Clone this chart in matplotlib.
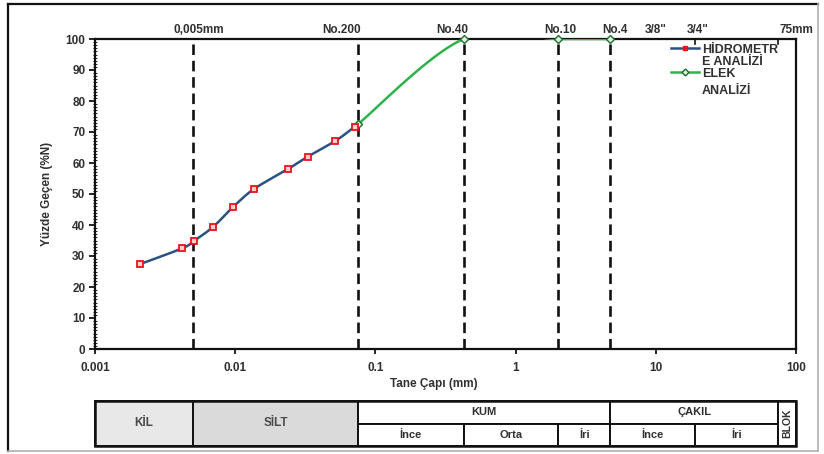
import numpy as np
import matplotlib
matplotlib.use("Agg")
import matplotlib.pyplot as plt
from matplotlib.patches import Rectangle
from matplotlib.lines import Line2D

plt.rcParams['font.family'] = ['Liberation Sans', 'DejaVu Sans']

# Hydrometer analysis (grain diameter in mm, percent passing)
hydro_d = [0.0021, 0.0042, 0.0051, 0.0070, 0.0097, 0.0137, 0.0237, 0.0328, 0.0518, 0.0711]
hydro_p = [27.4, 32.5, 34.9, 39.5, 45.9, 51.7, 58.0, 62.0, 67.1, 71.7]

# Sieve analysis
sieve_d = [0.075, 0.425, 2.0, 4.75]
sieve_p = [72.5, 100, 100, 100]

# Reference sizes marked along the top of the chart
ref_sizes = [0.005, 0.075, 0.425, 2.0, 4.75, 9.5, 19.0, 75.0]
ref_labels = ["0,005mm", "No.200", "No.40", "No.10", "No.4", '3/8"', '3/4"', "75mm"]
dashed_sizes = [0.005, 0.075, 0.425, 2.0, 4.75]

x_ticks = [0.001, 0.01, 0.1, 1, 10, 100]
x_ticklabels = ["0.001", "0.01", "0.1", "1", "10", "100"]
y_ticks = list(range(0, 101, 10))

# Soil classification band (limits in mm)
band_main = [("KİL", 0.001, 0.005, "#e8e8e8"), ("SİLT", 0.005, 0.075, "#dadada")]
band_groups = [("KUM", 0.075, 4.75), ("ÇAKIL", 4.75, 75.0)]
band_sub = [("İnce", 0.075, 0.425), ("Orta", 0.425, 2.0), ("İri", 2.0, 4.75),
            ("İnce", 4.75, 19.0), ("İri", 19.0, 75.0)]
band_blok = ("BLOK", 75.0, 100.0)


def smooth_curve(xs, ys, n=40):
    """Spreadsheet-style smoothed line (Catmull-Rom Bezier) in log-x space."""
    lx = np.log10(np.asarray(xs, float))
    y = np.asarray(ys, float)
    P = np.column_stack([lx, y])
    P = np.vstack([P[0], P, P[-1]])
    out = []
    t = np.linspace(0, 1, n)[:, None]
    for i in range(1, len(P) - 2):
        p0, p1, p2, p3 = P[i - 1], P[i], P[i + 1], P[i + 2]
        b1 = p1 + (p2 - p0) / 6.0
        b2 = p2 - (p3 - p1) / 6.0
        seg = ((1 - t) ** 3) * p1 + 3 * ((1 - t) ** 2) * t * b1 + 3 * (1 - t) * t ** 2 * b2 + t ** 3 * p2
        out.append(seg if i == 1 else seg[1:])
    out = np.vstack(out)
    return 10 ** out[:, 0], out[:, 1]


W, H = 824, 454
fig = plt.figure(figsize=(W / 100, H / 100), dpi=100)

ax_l, ax_r, ax_t, ax_b = 95 / W, 796 / W, 1 - 39 / H, 1 - 349 / H
ax = fig.add_axes([ax_l, ax_b, ax_r - ax_l, ax_t - ax_b])
ax.set_xscale("log")
ax.set_xlim(0.001, 100)
ax.set_ylim(0, 100)

txt_col = "#303030"
blue = "#2b5283"
green = "#2fb24c"

# dashed reference lines
for d in dashed_sizes:
    ax.axvline(d, color="#111111", lw=1.9, dashes=(4, 2.2), zorder=2)

# hydrometer curve
hx, hy = smooth_curve(hydro_d, hydro_p)
ax.plot(hx, hy, color=blue, lw=1.8, zorder=3)
ax.plot(hydro_d, hydro_p, ls="none", marker="s", ms=5, mfc="#ffd0d0", mec="#e8141c",
        mew=1.3, zorder=5, clip_on=False)

# sieve curve
sx, sy = smooth_curve(sieve_d, sieve_p)
ax.plot(sx, sy, color=green, lw=1.8, zorder=3)
ax.plot(sieve_d, sieve_p, ls="none", marker="D", ms=4, mfc="#dff0df", mec="#1f6b30",
        mew=1.0, zorder=4, clip_on=False)

for s in ax.spines.values():
    s.set_linewidth(1.6)
    s.set_color("#111111")

ax.set_xticks(x_ticks)
ax.set_xticklabels(x_ticklabels)
ax.xaxis.set_minor_locator(matplotlib.ticker.NullLocator())
ax.tick_params(axis="x", which="major", direction="out", length=3.5, width=1.2, pad=6,
               labelsize=8.5, labelcolor=txt_col)
ax.set_yticks(y_ticks)
ax.yaxis.set_minor_locator(matplotlib.ticker.MultipleLocator(1))
ax.tick_params(axis="y", which="major", direction="out", length=4, width=1.2, pad=3,
               labelsize=8.5, labelcolor=txt_col)
ax.tick_params(axis="y", which="minor", direction="inout", length=3, width=0.6)
for lab in ax.get_xticklabels() + ax.get_yticklabels():
    lab.set_fontweight("bold")

ax.set_xlabel("Tane Çapı (mm)", fontsize=8.5, fontweight="bold", color=txt_col, labelpad=4)
ax.xaxis.set_label_coords(0.483, -0.095)
ax.set_ylabel("Yüzde Geçen (%N)", fontsize=8.5, fontweight="bold", color=txt_col, labelpad=9)

# small marks on the top edge at 3/4" and 75mm
for d in ref_sizes[6:]:
    ax.plot([d, d], [100, 98.3], color="#111111", lw=1.2, zorder=4)

# top labels
label_shift = [4, -12, -8, 2, 3, 2, 2, 13]
for d, lab, dx in zip(ref_sizes, ref_labels, label_shift):
    ax.annotate(lab, xy=(d, 1.0), xycoords=("data", "axes fraction"),
                xytext=(dx, 6.5), textcoords="offset points", ha="center", va="center",
                fontsize=8.5, fontweight="bold", color=txt_col, annotation_clip=False)

# legend
handles = [Line2D([], [], color=blue, lw=1.8, marker="s", ms=3.5, mfc="#e8141c", mec="#e8141c"),
           Line2D([], [], color=green, lw=1.8, marker="D", ms=3.5, mfc="#dff0df", mec="#1f6b30")]
leg = ax.legend(handles, ["HİDROMETR\nE ANALİZİ", "ELEK\nANALİZİ"], loc="upper left",
                bbox_to_anchor=(0.822, 0.985), frameon=False, fontsize=9,
                handlelength=2.2, handletextpad=0.25, labelspacing=0.0, borderpad=0,
                borderaxespad=0)
for t, ls in zip(leg.get_texts(), [1.0, 1.55]):
    t.set_fontweight("bold")
    t.set_color(txt_col)
    t.set_linespacing(ls)
for col in leg._legend_handle_box.get_children():
    for item in col.get_children():
        item.align = "top"

# classification band below the chart
tb_b, tb_t = 1 - 446 / H, 1 - 401 / H
tab = fig.add_axes([ax_l, tb_b, ax_r - ax_l, tb_t - tb_b])
tab.set_xscale("log")
tab.set_xlim(0.001, 100)
tab.set_ylim(0, 2)
tab.axis("off")

lw_in = 1.4
edge = "#111111"
for name, x0, x1, fc in band_main:
    tab.add_patch(Rectangle((x0, 0), x1 - x0, 2, facecolor=fc, edgecolor=edge, lw=lw_in, clip_on=False))
    tab.text(np.sqrt(x0 * x1), 1.0, name, ha="center", va="center", fontsize=8.5,
             fontweight="bold", color="#4a4a4a")
for name, x0, x1 in band_groups:
    tab.add_patch(Rectangle((x0, 1), x1 - x0, 1, facecolor="white", edgecolor=edge, lw=lw_in, clip_on=False))
    tab.text(np.sqrt(x0 * x1), 1.5, name, ha="center", va="center", fontsize=8,
             fontweight="bold", color=txt_col)
for name, x0, x1 in band_sub:
    tab.add_patch(Rectangle((x0, 0), x1 - x0, 1, facecolor="white", edgecolor=edge, lw=lw_in, clip_on=False))
    tab.text(np.sqrt(x0 * x1), 0.48, name, ha="center", va="center", fontsize=8,
             fontweight="bold", color=txt_col)
name, x0, x1 = band_blok
tab.add_patch(Rectangle((x0, 0), x1 - x0, 2, facecolor="white", edgecolor=edge, lw=lw_in, clip_on=False))
tab.text(np.sqrt(x0 * x1), 1.0, name, ha="center", va="center", fontsize=7.5,
         fontweight="bold", color=txt_col, rotation=90)
tab.add_patch(Rectangle((0.001, 0), 100 - 0.001, 2, facecolor="none", edgecolor=edge, lw=1.8, clip_on=False))

# outer frame
fx0, fx1, fy0, fy1 = 8 / W, 818 / W, 1 - 451 / H, 1 - 4 / H
fig.add_artist(Line2D([fx0, fx1], [fy1, fy1], color="#111111", lw=1.6))
fig.add_artist(Line2D([fx0, fx0], [fy0, fy1], color="#111111", lw=1.6))
fig.add_artist(Line2D([fx0, fx1], [fy0, fy0], color="#b0b0b0", lw=1.2))
fig.add_artist(Line2D([fx1, fx1], [fy0, fy1], color="#b0b0b0", lw=1.2))

fig.savefig("out.png", dpi=100, facecolor="white")
